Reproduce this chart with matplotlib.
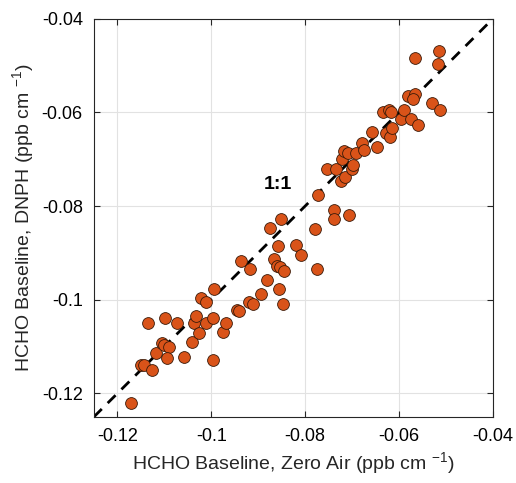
import matplotlib
matplotlib.use("Agg")
import matplotlib.pyplot as plt

plt.rcParams['font.family'] = ['Liberation Sans', 'DejaVu Sans']
plt.rcParams['mathtext.fontset'] = 'custom'
plt.rcParams['mathtext.rm'] = 'Liberation Sans'
plt.rcParams['mathtext.it'] = 'Liberation Sans'

# baseline values (ppb cm^-1)
zero_air = [
    -0.1170, -0.1150, -0.1143, -0.1127, -0.1135, -0.1118, -0.1104, -0.1101,
    -0.1090, -0.1094, -0.1098, -0.1074, -0.1058, -0.1040, -0.1037, -0.1032,
    -0.1026, -0.1012, -0.0997, -0.0997, -0.1022, -0.1011, -0.0995, -0.0975,
    -0.0968, -0.0946, -0.0940, -0.0936, -0.0918, -0.0920, -0.0911, -0.0893,
    -0.0881, -0.0874, -0.0852, -0.0857, -0.0867, -0.0860, -0.0854, -0.0844,
    -0.0855, -0.0848, -0.0820, -0.0809, -0.0778, -0.0774, -0.0773, -0.0738,
    -0.0739, -0.0706, -0.0753, -0.0735, -0.0723, -0.0714, -0.0701, -0.0698,
    -0.0721, -0.0717, -0.0709, -0.0691, -0.0678, -0.0674, -0.0658, -0.0646,
    -0.0627, -0.0618, -0.0614, -0.0635, -0.0621, -0.0616, -0.0595, -0.0590,
    -0.0575, -0.0560, -0.0581, -0.0565, -0.0569, -0.0530, -0.0512, -0.0565,
    -0.0515, -0.0516,
]
dnph = [
    -0.1220, -0.1140, -0.1140, -0.1149, -0.1049, -0.1113, -0.1092, -0.1096,
    -0.1101, -0.1125, -0.1039, -0.1049, -0.1123, -0.1091, -0.1049, -0.1034,
    -0.1071, -0.1049, -0.1039, -0.1129, -0.0997, -0.1004, -0.0978, -0.1068,
    -0.1049, -0.1021, -0.1023, -0.0918, -0.0934, -0.1005, -0.1008, -0.0987,
    -0.0957, -0.0846, -0.0827, -0.0886, -0.0912, -0.0928, -0.0930, -0.0939,
    -0.0977, -0.1009, -0.0883, -0.0905, -0.0848, -0.0934, -0.0777, -0.0809,
    -0.0827, -0.0818, -0.0721, -0.0720, -0.0746, -0.0737, -0.0721, -0.0713,
    -0.0700, -0.0682, -0.0686, -0.0686, -0.0666, -0.0680, -0.0641, -0.0673,
    -0.0644, -0.0652, -0.0633, -0.0600, -0.0594, -0.0600, -0.0614, -0.0594,
    -0.0614, -0.0626, -0.0564, -0.0561, -0.0571, -0.0579, -0.0594, -0.0484,
    -0.0469, -0.0497,
]
lims = [-0.125, -0.04]
ticks = [-0.12, -0.1, -0.08, -0.06, -0.04]
tick_labels = ['-0.12', '-0.1', '-0.08', '-0.06', '-0.04']

fig = plt.figure(figsize=(5.16, 4.83), dpi=100)
ax = fig.add_axes([0.182, 0.137, 0.773, 0.824])

ax.plot(lims, lims, '--', color='black', linewidth=2, dashes=(4, 3), zorder=2)
ax.scatter(zero_air, dnph, s=72, color='#D95319', edgecolors='#3a1a08',
           linewidths=0.6, zorder=3)
ax.text(-0.0857, -0.0753, '1:1', fontsize=14, fontweight='bold',
        ha='center', va='center')

ax.set_xlim(lims)
ax.set_ylim(lims)
ax.set_xticks(ticks)
ax.set_xticklabels(tick_labels)
ax.set_yticks(ticks)
ax.set_yticklabels(tick_labels)
ax.grid(True, color='#e2e2e2', linewidth=0.8)
ax.set_axisbelow(True)
ax.tick_params(direction='in', top=True, right=True, labelsize=13,
               length=4, color='#262626', pad=8)
for sp in ax.spines.values():
    sp.set_color('#262626')
    sp.set_linewidth(0.8)

ax.set_xlabel('HCHO Baseline, Zero Air (ppb cm $^{-1}$)', fontsize=14,
              color='#262626', labelpad=4)
ax.set_ylabel('HCHO Baseline, DNPH (ppb cm $^{-1}$)', fontsize=14,
              color='#262626', labelpad=4)

fig.savefig('out.png', dpi=100)
